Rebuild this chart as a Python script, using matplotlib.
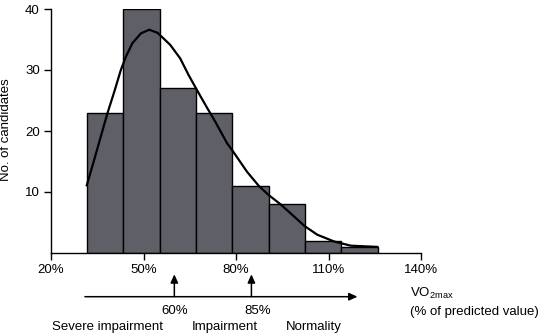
import numpy as np
import matplotlib
matplotlib.use("Agg")
import matplotlib.pyplot as plt

plt.rcParams['font.family'] = ['Liberation Sans', 'DejaVu Sans']
plt.rcParams['font.size'] = 9

# histogram: bin edges (% of predicted VO2max) and counts
bin_edges = [31.6, 43.4, 55.2, 67.0, 78.8, 90.6, 102.4, 114.2, 126.0]
counts = [23, 40, 27, 23, 11, 8, 2, 1]

# fitted curve
curve_x = [31.6, 33.97, 36.15, 38.3, 40.5, 42.65, 44.3, 46.4, 49.15, 51.85,
           54.55, 55.4, 58.7, 61.9, 64.6, 67.35, 70.05, 73.3, 77.1, 78.7,
           83.6, 87.4, 90.6, 94.4, 97.7, 102.3, 106.35, 111.75, 117.2, 125.85]
curve_y = [11.1, 15.2, 19.1, 22.9, 26.4, 30.0, 32.2, 34.4, 36.0, 36.6,
           36.1, 35.7, 34.1, 31.9, 29.2, 26.7, 24.3, 21.5, 18.0, 16.9,
           13.3, 11.0, 9.5, 8.0, 6.5, 4.4, 3.0, 1.9, 1.2, 1.0]

xticks = [20, 50, 80, 110, 140]
xticklabels = ['20%', '50%', '80%', '110%', '140%']
yticks = [10, 20, 30, 40]

cut_offs = [60, 85]
cut_labels = ['60%', '85%']
categories = ['Severe impairment', 'Impairment', 'Normality']

W, H = 540, 335
fig = plt.figure(figsize=(W / 100, H / 100), dpi=100)
ax = fig.add_axes([51 / W, 1 - 253 / H, 370 / W, 244 / H])

widths = np.diff(bin_edges)
ax.bar(bin_edges[:-1], counts, width=widths, align='edge',
       color='#5f6067', edgecolor='black', linewidth=1.0)
ax.plot(curve_x, curve_y, color='black', linewidth=1.6)

ax.set_xlim(20, 140)
ax.set_ylim(0, 40)
ax.set_xticks(xticks)
ax.set_xticklabels(xticklabels)
ax.set_yticks(yticks)
for s in ['top', 'right']:
    ax.spines[s].set_visible(False)
for s in ['left', 'bottom']:
    ax.spines[s].set_linewidth(1.0)
ax.tick_params(length=5, width=1.0, pad=3, labelsize=9.5)

fig.text(6 / W, 1 - 130 / H, 'No. of candidates', rotation=90,
         ha='center', va='center', fontsize=9.5)

# classification arrow below the axis
y_line = 1 - 296.7 / H
y_tip = 1 - 274.3 / H
style = '-|>,head_length=0.55,head_width=0.25'
ax.annotate('', xy=(119.4, y_line), xytext=(31.0, y_line),
            xycoords=('data', 'figure fraction'),
            textcoords=('data', 'figure fraction'),
            arrowprops=dict(arrowstyle=style, color='black', lw=1.1,
                            shrinkA=0, shrinkB=0),
            annotation_clip=False)
for c in cut_offs:
    ax.annotate('', xy=(c, y_tip), xytext=(c, y_line),
                xycoords=('data', 'figure fraction'),
                textcoords=('data', 'figure fraction'),
                arrowprops=dict(arrowstyle=style, color='black', lw=1.1,
                                shrinkA=0, shrinkB=0),
                annotation_clip=False)

for px, lab in zip([175, 257.5], cut_labels):
    fig.text(px / W, 1 - 311 / H, lab, ha='center', va='center', fontsize=9.5)
for px, lab in zip([107, 225, 314], categories):
    fig.text(px / W, 1 - 327 / H, lab, ha='center', va='center', fontsize=9.5)

fig.text(410 / W, 1 - 293 / H, r'VO$_{\mathregular{2max}}$', ha='left', va='center', fontsize=9.5)
fig.text(410 / W, 1 - 311.7 / H, '(% of predicted value)', ha='left', va='center', fontsize=9.5)

fig.savefig('out.png', dpi=100)
